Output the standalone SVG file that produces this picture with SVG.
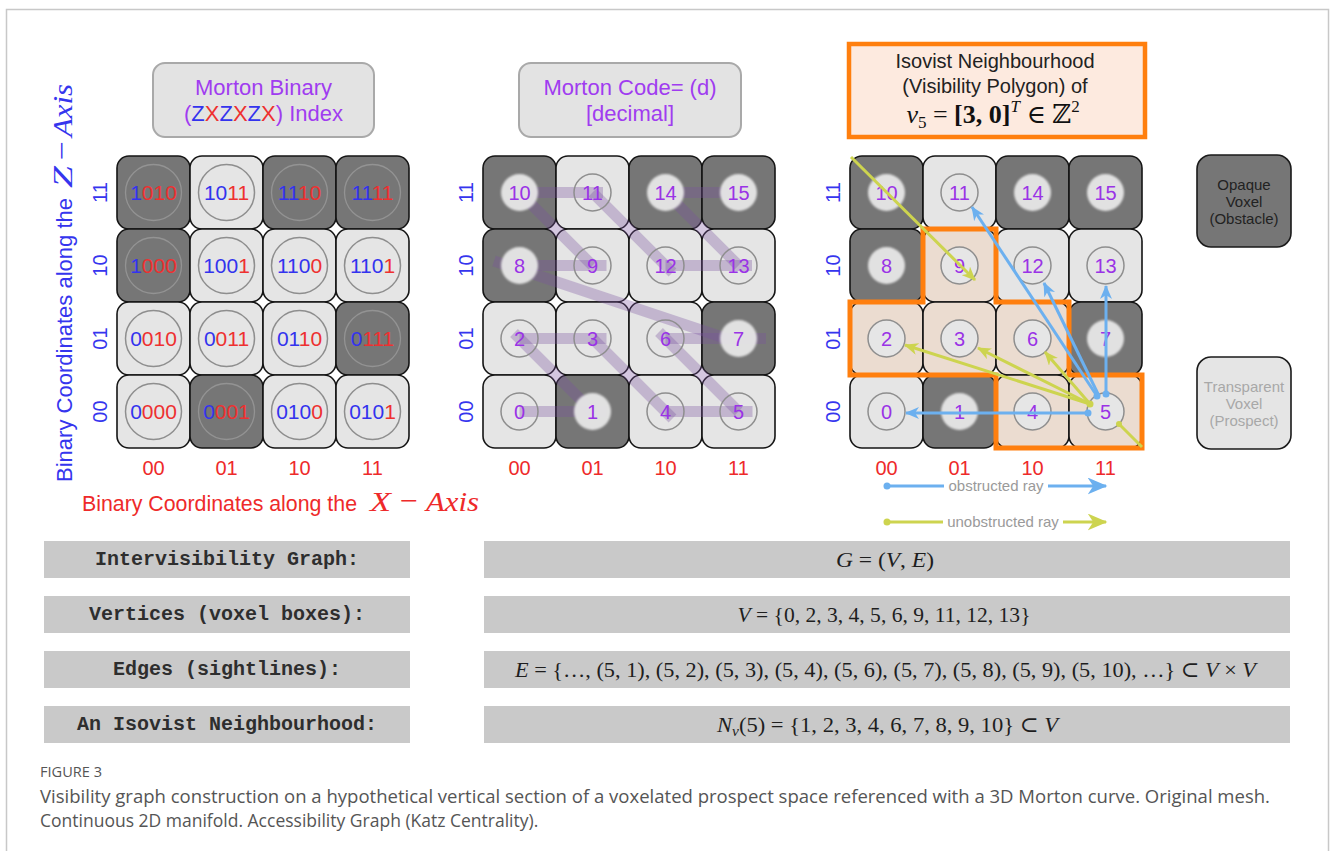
<svg xmlns="http://www.w3.org/2000/svg" width="1330" height="851" viewBox="0 0 1330 851">
<defs>
<filter id="soft" x="-20%" y="-20%" width="140%" height="140%"><feGaussianBlur stdDeviation="0.9"/></filter>
<marker id="arB" viewBox="0 0 14 12" refX="13" refY="6" markerWidth="14" markerHeight="12" markerUnits="userSpaceOnUse" orient="auto"><path d="M0,0 L14,6 L0,12 L4,6 Z" fill="#6cb0ef"/></marker>
<marker id="arY" viewBox="0 0 14 12" refX="13" refY="6" markerWidth="14" markerHeight="12" markerUnits="userSpaceOnUse" orient="auto"><path d="M0,0 L14,6 L0,12 L4,6 Z" fill="#cdd44f"/></marker>
<marker id="arBL" viewBox="0 0 14 12" refX="13" refY="6" markerWidth="20" markerHeight="17" markerUnits="userSpaceOnUse" orient="auto"><path d="M0,0 L14,6 L0,12 L4,6 Z" fill="#6cb0ef"/></marker>
<marker id="arYL" viewBox="0 0 14 12" refX="13" refY="6" markerWidth="20" markerHeight="17" markerUnits="userSpaceOnUse" orient="auto"><path d="M0,0 L14,6 L0,12 L4,6 Z" fill="#cdd44f"/></marker>
</defs>
<style>
.sans{font-family:"Liberation Sans",Arial,sans-serif}
.serif{font-family:"Liberation Serif","DejaVu Serif",serif}
.cd{fill:#767676;stroke:#151515;stroke-width:1.6}
.cl{fill:#e5e5e5;stroke:#151515;stroke-width:1.6}
.cp{fill:#ebdcd0;stroke:#151515;stroke-width:1.6}
.ring{fill:none;stroke:#8e8e8e;stroke-width:1.5}
.ringd{fill:none;stroke:#939393;stroke-width:1.3}
.disc{fill:#ededed;opacity:0.9}
.dig{font-family:"Liberation Sans",Arial,sans-serif;font-size:21px;text-anchor:middle}
.num{font-family:"Liberation Sans",Arial,sans-serif;font-size:20px;text-anchor:middle;fill:#9a33e6}
.b{fill:#3333ee}
.r{fill:#ee3030}
.lblz{font-family:"Liberation Sans",Arial,sans-serif;font-size:20px;text-anchor:middle;fill:#3535ee}
.lblx{font-family:"Liberation Sans",Arial,sans-serif;font-size:20px;text-anchor:middle;fill:#ee2a2a}
.mline{stroke:#7a50a0;stroke-opacity:0.32;stroke-width:11;fill:none}
.tbox{fill:#e3e3e3;stroke:#a9a9a9;stroke-width:2}
.ptitle{font-family:"Liberation Sans",Arial,sans-serif;font-size:22px;text-anchor:middle;fill:#a03cf0}
.rowL{fill:#c9c9c9}
.mono{font-family:"Liberation Mono","Courier New",monospace;font-weight:bold;font-size:20px;text-anchor:middle;fill:#2e2e2e}
.math{font-family:"Liberation Serif","DejaVu Serif",serif;font-size:22px;text-anchor:middle;fill:#1e1e1e}
.rayB{stroke:#6cb0ef;stroke-width:3;fill:none}
.rayY{stroke:#cdd44f;stroke-width:3;fill:none}
.leg{font-family:"Liberation Sans",Arial,sans-serif;font-size:15px;fill:#9a9a9a;text-anchor:middle}
.cap{font-family:"Open Sans","Liberation Sans",sans-serif;fill:#555555}
.axm{font-family:"Liberation Serif","DejaVu Serif",serif;font-size:28px}
</style>
<rect x="0" y="0" width="1330" height="851" fill="#ffffff"/>
<rect x="6.5" y="9.5" width="1322" height="846" fill="none" stroke="#c8c8c8" stroke-width="1.5"/>

<!-- ============ LEFT GRID ============ -->
<g id="left-title">
<rect class="tbox" x="153" y="63" width="221" height="74" rx="12"/>
<text class="ptitle" x="263.5" y="95">Morton Binary</text>
<text class="ptitle" x="263.5" y="121">(<tspan class="b">Z</tspan><tspan class="r">X</tspan><tspan class="b">Z</tspan><tspan class="r">X</tspan><tspan class="b">Z</tspan><tspan class="r">X</tspan>) Index</text>
</g>
<g id="left-grid">
<g id="L-1010"><rect class="cd" x="117" y="156" width="73" height="73" rx="12"/><circle class="ringd" cx="153.5" cy="192.5" r="28"/><text class="dig" x="153.5" y="200"><tspan class="b">1</tspan><tspan class="r">010</tspan></text></g>
<g id="L-1011"><rect class="cl" x="190" y="156" width="73" height="73" rx="12"/><circle class="ring" cx="226.5" cy="192.5" r="28"/><text class="dig" x="226.5" y="200"><tspan class="b">10</tspan><tspan class="r">11</tspan></text></g>
<g id="L-1110"><rect class="cd" x="263" y="156" width="73" height="73" rx="12"/><circle class="ringd" cx="299.5" cy="192.5" r="28"/><text class="dig" x="299.5" y="200"><tspan class="b">11</tspan><tspan class="r">10</tspan></text></g>
<g id="L-1111"><rect class="cd" x="336" y="156" width="73" height="73" rx="12"/><circle class="ringd" cx="372.5" cy="192.5" r="28"/><text class="dig" x="372.5" y="200"><tspan class="b">11</tspan><tspan class="r">11</tspan></text></g>

<g id="L-1000"><rect class="cd" x="117" y="229" width="73" height="73" rx="12"/><circle class="ringd" cx="153.5" cy="265.5" r="28"/><text class="dig" x="153.5" y="273"><tspan class="b">1</tspan><tspan class="r">000</tspan></text></g>
<g id="L-1001"><rect class="cl" x="190" y="229" width="73" height="73" rx="12"/><circle class="ring" cx="226.5" cy="265.5" r="28"/><text class="dig" x="226.5" y="273"><tspan class="b">100</tspan><tspan class="r">1</tspan></text></g>
<g id="L-1100"><rect class="cl" x="263" y="229" width="73" height="73" rx="12"/><circle class="ring" cx="299.5" cy="265.5" r="28"/><text class="dig" x="299.5" y="273"><tspan class="b">110</tspan><tspan class="r">0</tspan></text></g>
<g id="L-1101"><rect class="cl" x="336" y="229" width="73" height="73" rx="12"/><circle class="ring" cx="372.5" cy="265.5" r="28"/><text class="dig" x="372.5" y="273"><tspan class="b">110</tspan><tspan class="r">1</tspan></text></g>

<g id="L-0010"><rect class="cl" x="117" y="302" width="73" height="73" rx="12"/><circle class="ring" cx="153.5" cy="338.5" r="28"/><text class="dig" x="153.5" y="346"><tspan class="b">0</tspan><tspan class="r">010</tspan></text></g>
<g id="L-0011"><rect class="cl" x="190" y="302" width="73" height="73" rx="12"/><circle class="ring" cx="226.5" cy="338.5" r="28"/><text class="dig" x="226.5" y="346"><tspan class="b">0</tspan><tspan class="r">011</tspan></text></g>
<g id="L-0110"><rect class="cl" x="263" y="302" width="73" height="73" rx="12"/><circle class="ring" cx="299.5" cy="338.5" r="28"/><text class="dig" x="299.5" y="346"><tspan class="b">01</tspan><tspan class="r">10</tspan></text></g>
<g id="L-0111"><rect class="cd" x="336" y="302" width="73" height="73" rx="12"/><circle class="ringd" cx="372.5" cy="338.5" r="28"/><text class="dig" x="372.5" y="346"><tspan class="b">0</tspan><tspan class="r">111</tspan></text></g>

<g id="L-0000"><rect class="cl" x="117" y="375" width="73" height="73" rx="12"/><circle class="ring" cx="153.5" cy="411.5" r="28"/><text class="dig" x="153.5" y="419"><tspan class="b">0</tspan><tspan class="r">000</tspan></text></g>
<g id="L-0001"><rect class="cd" x="190" y="375" width="73" height="73" rx="12"/><circle class="ringd" cx="226.5" cy="411.5" r="28"/><text class="dig" x="226.5" y="419"><tspan class="b">0</tspan><tspan class="r">001</tspan></text></g>
<g id="L-0100"><rect class="cl" x="263" y="375" width="73" height="73" rx="12"/><circle class="ring" cx="299.5" cy="411.5" r="28"/><text class="dig" x="299.5" y="419"><tspan class="b">010</tspan><tspan class="r">0</tspan></text></g>
<g id="L-0101"><rect class="cl" x="336" y="375" width="73" height="73" rx="12"/><circle class="ring" cx="372.5" cy="411.5" r="28"/><text class="dig" x="372.5" y="419"><tspan class="b">010</tspan><tspan class="r">1</tspan></text></g>
</g>
<g id="left-axis-labels">
<text class="lblz" transform="translate(107,192.5) rotate(-90)">11</text>
<text class="lblz" transform="translate(107,265.5) rotate(-90)">10</text>
<text class="lblz" transform="translate(107,338.5) rotate(-90)">01</text>
<text class="lblz" transform="translate(107,411.5) rotate(-90)">00</text>
<text class="lblx" x="153.5" y="475">00</text>
<text class="lblx" x="226.5" y="475">01</text>
<text class="lblx" x="299.5" y="475">10</text>
<text class="lblx" x="372.5" y="475">11</text>
</g>
<g id="z-axis-title" transform="translate(72,482) rotate(-90)" fill="#3535ee">
<text class="sans" x="0" y="0" font-size="21.5" textLength="284" lengthAdjust="spacingAndGlyphs">Binary Coordinates along the</text>
<text class="axm" x="294" y="0" font-style="italic" textLength="22" lengthAdjust="spacingAndGlyphs">Z</text>
<text class="axm" x="322" y="-1" textLength="19" lengthAdjust="spacingAndGlyphs">−</text>
<text class="axm" x="345" y="0" font-style="italic" textLength="53" lengthAdjust="spacingAndGlyphs">Axis</text>
</g>
<g id="x-axis-title" fill="#ee2a2a">
<text class="sans" x="82" y="511" font-size="21.5" textLength="275" lengthAdjust="spacingAndGlyphs">Binary Coordinates along the</text>
<text class="axm" x="370" y="511" font-style="italic" textLength="21" lengthAdjust="spacingAndGlyphs">X</text>
<text class="axm" x="400" y="510" textLength="18" lengthAdjust="spacingAndGlyphs">−</text>
<text class="axm" x="426" y="511" font-style="italic" textLength="53" lengthAdjust="spacingAndGlyphs">Axis</text>
</g>

<!-- ============ MIDDLE GRID ============ -->
<g id="mid-title">
<rect class="tbox" x="519" y="63" width="222" height="74" rx="12"/>
<text class="ptitle" x="630" y="95">Morton Code= (d)</text>
<text class="ptitle" x="630" y="121">[decimal]</text>
</g>
<g id="mid-cells">
<rect class="cd" x="483" y="156" width="73" height="73" rx="12"/>
<rect class="cl" x="556" y="156" width="73" height="73" rx="12"/>
<rect class="cd" x="629" y="156" width="73" height="73" rx="12"/>
<rect class="cd" x="702" y="156" width="73" height="73" rx="12"/>
<rect class="cd" x="483" y="229" width="73" height="73" rx="12"/>
<rect class="cl" x="556" y="229" width="73" height="73" rx="12"/>
<rect class="cl" x="629" y="229" width="73" height="73" rx="12"/>
<rect class="cl" x="702" y="229" width="73" height="73" rx="12"/>
<rect class="cl" x="483" y="302" width="73" height="73" rx="12"/>
<rect class="cl" x="556" y="302" width="73" height="73" rx="12"/>
<rect class="cl" x="629" y="302" width="73" height="73" rx="12"/>
<rect class="cd" x="702" y="302" width="73" height="73" rx="12"/>
<rect class="cl" x="483" y="375" width="73" height="73" rx="12"/>
<rect class="cd" x="556" y="375" width="73" height="73" rx="12"/>
<rect class="cl" x="629" y="375" width="73" height="73" rx="12"/>
<rect class="cl" x="702" y="375" width="73" height="73" rx="12"/>
</g>
<g id="connectors-morton">
<line class="mline" x1="519.5" y1="411.5" x2="606.5" y2="411.5"/>
<line class="mline" x1="592.5" y1="411.5" x2="514" y2="333"/>
<line class="mline" x1="519.5" y1="338.5" x2="606.5" y2="338.5"/>
<line class="mline" x1="592.5" y1="338.5" x2="672.5" y2="418.5"/>
<line class="mline" x1="665.5" y1="411.5" x2="752.5" y2="411.5"/>
<line class="mline" x1="738.5" y1="411.5" x2="659" y2="332"/>
<line class="mline" x1="665.5" y1="338.5" x2="766" y2="338.5"/>
<line class="mline" x1="740" y1="343" x2="494" y2="261"/>
<line class="mline" x1="519.5" y1="265.5" x2="606.5" y2="265.5"/>
<line class="mline" x1="592.5" y1="265.5" x2="516" y2="189"/>
<line class="mline" x1="519.5" y1="192.5" x2="603" y2="192.5"/>
<line class="mline" x1="592.5" y1="192.5" x2="672.5" y2="272.5"/>
<line class="mline" x1="665.5" y1="265.5" x2="752" y2="265.5"/>
<line class="mline" x1="738.5" y1="265.5" x2="662" y2="189"/>
<line class="mline" x1="665.5" y1="192.5" x2="748" y2="192.5"/>
</g>
<g id="M-10"><circle class="disc" filter="url(#soft)" cx="519.5" cy="192.5" r="18.5"/><text class="num" x="519.5" y="199.5">10</text></g>
<g id="M-11"><circle class="ring" cx="592.5" cy="192.5" r="18.5"/><text class="num" x="592.5" y="199.5">11</text></g>
<g id="M-14"><circle class="disc" filter="url(#soft)" cx="665.5" cy="192.5" r="18.5"/><text class="num" x="665.5" y="199.5">14</text></g>
<g id="M-15"><circle class="disc" filter="url(#soft)" cx="738.5" cy="192.5" r="18.5"/><text class="num" x="738.5" y="199.5">15</text></g>
<g id="M-8"><circle class="disc" filter="url(#soft)" cx="519.5" cy="265.5" r="18.5"/><text class="num" x="519.5" y="272.5">8</text></g>
<g id="M-9"><circle class="ring" cx="592.5" cy="265.5" r="18.5"/><text class="num" x="592.5" y="272.5">9</text></g>
<g id="M-12"><circle class="ring" cx="665.5" cy="265.5" r="18.5"/><text class="num" x="665.5" y="272.5">12</text></g>
<g id="M-13"><circle class="ring" cx="738.5" cy="265.5" r="18.5"/><text class="num" x="738.5" y="272.5">13</text></g>
<g id="M-2"><circle class="ring" cx="519.5" cy="338.5" r="18.5"/><text class="num" x="519.5" y="345.5">2</text></g>
<g id="M-3"><circle class="ring" cx="592.5" cy="338.5" r="18.5"/><text class="num" x="592.5" y="345.5">3</text></g>
<g id="M-6"><circle class="ring" cx="665.5" cy="338.5" r="18.5"/><text class="num" x="665.5" y="345.5">6</text></g>
<g id="M-7"><circle class="disc" filter="url(#soft)" cx="738.5" cy="338.5" r="18.5"/><text class="num" x="738.5" y="345.5">7</text></g>
<g id="M-0"><circle class="ring" cx="519.5" cy="411.5" r="18.5"/><text class="num" x="519.5" y="418.5">0</text></g>
<g id="M-1"><circle class="disc" filter="url(#soft)" cx="592.5" cy="411.5" r="18.5"/><text class="num" x="592.5" y="418.5">1</text></g>
<g id="M-4"><circle class="ring" cx="665.5" cy="411.5" r="18.5"/><text class="num" x="665.5" y="418.5">4</text></g>
<g id="M-5"><circle class="ring" cx="738.5" cy="411.5" r="18.5"/><text class="num" x="738.5" y="418.5">5</text></g>
<g id="mid-axis-labels">
<text class="lblz" transform="translate(473,192.5) rotate(-90)">11</text>
<text class="lblz" transform="translate(473,265.5) rotate(-90)">10</text>
<text class="lblz" transform="translate(473,338.5) rotate(-90)">01</text>
<text class="lblz" transform="translate(473,411.5) rotate(-90)">00</text>
<text class="lblx" x="519.5" y="475">00</text>
<text class="lblx" x="592.5" y="475">01</text>
<text class="lblx" x="665.5" y="475">10</text>
<text class="lblx" x="738.5" y="475">11</text>
</g>

<!-- ============ RIGHT GRID ============ -->
<g id="right-title">
<rect x="849" y="44" width="296" height="93" fill="#fdeadf" stroke="#ff7f0e" stroke-width="4.5"/>
<text class="sans" x="995" y="68" font-size="20" fill="#222" text-anchor="middle">Isovist Neighbourhood</text>
<text class="sans" x="995" y="93" font-size="20" fill="#222" text-anchor="middle">(Visibility Polygon) of</text>
<text class="serif" x="993" y="123" font-size="26" fill="#111" text-anchor="middle"><tspan font-style="italic">v</tspan><tspan font-size="17" dy="5">5</tspan><tspan dy="-5"> = </tspan><tspan font-weight="bold">[3, 0]</tspan><tspan font-style="italic" font-size="17" dy="-11">T</tspan><tspan dy="11"> ∈ ℤ</tspan><tspan font-size="17" dy="-11">2</tspan></text>
</g>
<g id="R-10"><rect class="cd" x="850" y="156" width="73" height="73" rx="12"/><circle class="disc" filter="url(#soft)" cx="886.5" cy="192.5" r="18.5"/><text class="num" x="886.5" y="199.5">10</text></g>
<g id="R-11"><rect class="cl" x="923" y="156" width="73" height="73" rx="12"/><circle class="ring" cx="959.5" cy="192.5" r="18.5"/><text class="num" x="959.5" y="199.5">11</text></g>
<g id="R-14"><rect class="cd" x="996" y="156" width="73" height="73" rx="12"/><circle class="disc" filter="url(#soft)" cx="1032.5" cy="192.5" r="18.5"/><text class="num" x="1032.5" y="199.5">14</text></g>
<g id="R-15"><rect class="cd" x="1069" y="156" width="73" height="73" rx="12"/><circle class="disc" filter="url(#soft)" cx="1105.5" cy="192.5" r="18.5"/><text class="num" x="1105.5" y="199.5">15</text></g>
<g id="R-8"><rect class="cd" x="850" y="229" width="73" height="73" rx="12"/><circle class="disc" filter="url(#soft)" cx="886.5" cy="265.5" r="18.5"/><text class="num" x="886.5" y="272.5">8</text></g>
<g id="R-9"><rect class="cp" x="923" y="229" width="73" height="73" rx="12"/><circle class="ring" style="fill:#e6e6e6" cx="959.5" cy="265.5" r="18.5"/><text class="num" x="959.5" y="272.5">9</text></g>
<g id="R-12"><rect class="cl" x="996" y="229" width="73" height="73" rx="12"/><circle class="ring" cx="1032.5" cy="265.5" r="18.5"/><text class="num" x="1032.5" y="272.5">12</text></g>
<g id="R-13"><rect class="cl" x="1069" y="229" width="73" height="73" rx="12"/><circle class="ring" cx="1105.5" cy="265.5" r="18.5"/><text class="num" x="1105.5" y="272.5">13</text></g>
<g id="R-2"><rect class="cp" x="850" y="302" width="73" height="73" rx="12"/><circle class="ring" style="fill:#e6e6e6" cx="886.5" cy="338.5" r="18.5"/><text class="num" x="886.5" y="345.5">2</text></g>
<g id="R-3"><rect class="cp" x="923" y="302" width="73" height="73" rx="12"/><circle class="ring" style="fill:#e6e6e6" cx="959.5" cy="338.5" r="18.5"/><text class="num" x="959.5" y="345.5">3</text></g>
<g id="R-6"><rect class="cp" x="996" y="302" width="73" height="73" rx="12"/><circle class="ring" style="fill:#e6e6e6" cx="1032.5" cy="338.5" r="18.5"/><text class="num" x="1032.5" y="345.5">6</text></g>
<g id="R-7"><rect class="cd" x="1069" y="302" width="73" height="73" rx="12"/><circle class="disc" filter="url(#soft)" cx="1105.5" cy="338.5" r="18.5"/><text class="num" x="1105.5" y="345.5">7</text></g>
<g id="R-0"><rect class="cl" x="850" y="375" width="73" height="73" rx="12"/><circle class="ring" cx="886.5" cy="411.5" r="18.5"/><text class="num" x="886.5" y="418.5">0</text></g>
<g id="R-1"><rect class="cd" x="923" y="375" width="73" height="73" rx="12"/><circle class="disc" filter="url(#soft)" cx="959.5" cy="411.5" r="18.5"/><text class="num" x="959.5" y="418.5">1</text></g>
<g id="R-4"><rect class="cp" x="996" y="375" width="73" height="73" rx="12"/><circle class="ring" style="fill:#e6e6e6" cx="1032.5" cy="411.5" r="18.5"/><text class="num" x="1032.5" y="418.5">4</text></g>
<g id="R-5"><rect class="cp" x="1069" y="375" width="73" height="73" rx="12"/><circle class="ring" style="fill:#e6e6e6" cx="1105.5" cy="411.5" r="18.5"/><text class="num" x="1105.5" y="418.5">5</text></g>
<g id="isovist-polygon">
<polygon points="850,302 923,302 923,229 996,229 996,302 1069,302 1069,375 1142,375 1142,448 996,448 996,375 850,375" fill="none" stroke="#ff7f0e" stroke-width="5" stroke-linejoin="miter"/>
</g>
<g id="connectors-rays">
<line class="rayB" x1="1088" y1="413" x2="906" y2="413" marker-end="url(#arB)"/>
<line class="rayB" x1="1097" y1="396" x2="972" y2="207" marker-end="url(#arB)"/>
<line class="rayB" x1="1099" y1="396" x2="1044" y2="283" marker-end="url(#arB)"/>
<line class="rayB" x1="1106" y1="394" x2="1106" y2="286" marker-end="url(#arB)"/>
<circle cx="1088" cy="413" r="3.5" fill="#6cb0ef"/>
<circle cx="1097" cy="396" r="3.5" fill="#6cb0ef"/>
<circle cx="1106" cy="394" r="3.5" fill="#6cb0ef"/>
<line class="rayY" x1="851" y1="157" x2="975" y2="280" marker-end="url(#arY)"/>
<line class="rayY" x1="1119" y1="424" x2="1142" y2="447"/>
<circle cx="1119" cy="424" r="3" fill="#cdd44f"/>
<line class="rayY" x1="1090" y1="404" x2="905" y2="345" marker-end="url(#arY)"/>
<line class="rayY" x1="1090" y1="404" x2="978" y2="348" marker-end="url(#arY)"/>
<line class="rayY" x1="1090" y1="404" x2="1045" y2="352" marker-end="url(#arY)"/>
<circle cx="1090" cy="404" r="3.5" fill="#cdd44f"/>
</g>
<g id="right-axis-labels">
<text class="lblz" transform="translate(840,192.5) rotate(-90)">11</text>
<text class="lblz" transform="translate(840,265.5) rotate(-90)">10</text>
<text class="lblz" transform="translate(840,338.5) rotate(-90)">01</text>
<text class="lblz" transform="translate(840,411.5) rotate(-90)">00</text>
<text class="lblx" x="886.5" y="475">00</text>
<text class="lblx" x="959.5" y="475">01</text>
<text class="lblx" x="1032.5" y="475">10</text>
<text class="lblx" x="1105.5" y="475">11</text>
</g>
<g id="ray-legend">
<line class="rayB" x1="887" y1="486" x2="944" y2="486"/>
<circle cx="887" cy="486" r="3.5" fill="#6cb0ef"/>
<text class="leg" x="996" y="491">obstructed ray</text>
<line class="rayB" x1="1048" y1="486" x2="1106" y2="486" marker-end="url(#arBL)"/>
<line class="rayY" x1="887" y1="522" x2="943" y2="522"/>
<circle cx="887" cy="522" r="3.5" fill="#cdd44f"/>
<text class="leg" x="1003" y="527">unobstructed ray</text>
<line class="rayY" x1="1063" y1="522" x2="1106" y2="522" marker-end="url(#arYL)"/>
</g>

<!-- ============ VOXEL LEGEND ============ -->
<g id="legend-opaque">
<rect x="1197" y="155" width="94" height="92" rx="14" fill="#767676" stroke="#1a1a1a" stroke-width="1.6"/>
<text class="sans" x="1244" y="190" font-size="15" fill="#222" text-anchor="middle">Opaque</text>
<text class="sans" x="1244" y="207" font-size="15" fill="#222" text-anchor="middle">Voxel</text>
<text class="sans" x="1244" y="224" font-size="15" fill="#222" text-anchor="middle">(Obstacle)</text>
</g>
<g id="legend-transparent">
<rect x="1197" y="357" width="94" height="92" rx="14" fill="#e5e5e5" stroke="#1a1a1a" stroke-width="1.6"/>
<text class="sans" x="1244" y="392" font-size="15" fill="#a8a8a8" text-anchor="middle">Transparent</text>
<text class="sans" x="1244" y="409" font-size="15" fill="#a8a8a8" text-anchor="middle">Voxel</text>
<text class="sans" x="1244" y="426" font-size="15" fill="#a8a8a8" text-anchor="middle">(Prospect)</text>
</g>

<!-- ============ TABLE ============ -->
<g id="row-graph">
<rect class="rowL" x="44" y="541" width="366" height="37"/>
<text class="mono" x="227" y="565">Intervisibility Graph:</text>
<rect class="rowL" x="484" y="541" width="806" height="37"/>
<text class="math" x="885" y="567" textLength="98" lengthAdjust="spacingAndGlyphs"><tspan font-style="italic">G</tspan> = (<tspan font-style="italic">V</tspan>, <tspan font-style="italic">E</tspan>)</text>
</g>
<g id="row-vertices">
<rect class="rowL" x="44" y="596" width="366" height="37"/>
<text class="mono" x="227" y="620">Vertices (voxel boxes):</text>
<rect class="rowL" x="484" y="596" width="806" height="37"/>
<text class="math" x="884" y="622" textLength="293" lengthAdjust="spacingAndGlyphs"><tspan font-style="italic">V</tspan> = {0, 2, 3, 4, 5, 6, 9, 11, 12, 13}</text>
</g>
<g id="row-edges">
<rect class="rowL" x="44" y="651" width="366" height="37"/>
<text class="mono" x="227" y="675">Edges (sightlines):</text>
<rect class="rowL" x="484" y="651" width="806" height="37"/>
<text class="math" x="885.5" y="677" textLength="741" lengthAdjust="spacingAndGlyphs"><tspan font-style="italic">E</tspan> = {…, (5, 1), (5, 2), (5, 3), (5, 4), (5, 6), (5, 7), (5, 8), (5, 9), (5, 10), …} ⊂ <tspan font-style="italic">V</tspan> × <tspan font-style="italic">V</tspan></text>
</g>
<g id="row-isovist">
<rect class="rowL" x="44" y="706" width="366" height="37"/>
<text class="mono" x="227" y="730">An Isovist Neighbourhood:</text>
<rect class="rowL" x="484" y="706" width="806" height="37"/>
<text class="math" x="887.5" y="732" textLength="341" lengthAdjust="spacingAndGlyphs"><tspan font-style="italic">N</tspan><tspan font-style="italic" font-size="15" dy="4">v</tspan><tspan dy="-4">(5) = {1, 2, 3, 4, 6, 7, 8, 9, 10} ⊂ </tspan><tspan font-style="italic">V</tspan></text>
</g>

<!-- ============ CAPTION ============ -->
<g id="caption">
<text class="cap" x="40" y="777" font-size="14" textLength="62" lengthAdjust="spacingAndGlyphs">FIGURE 3</text>
<text class="cap" x="40" y="803" font-size="18" textLength="1230" lengthAdjust="spacingAndGlyphs">Visibility graph construction on a hypothetical vertical section of a voxelated prospect space referenced with a 3D Morton curve. Original mesh.</text>
<text class="cap" x="40" y="827" font-size="17.5">Continuous 2D manifold. Accessibility Graph (Katz Centrality).</text>
</g>
</svg>
